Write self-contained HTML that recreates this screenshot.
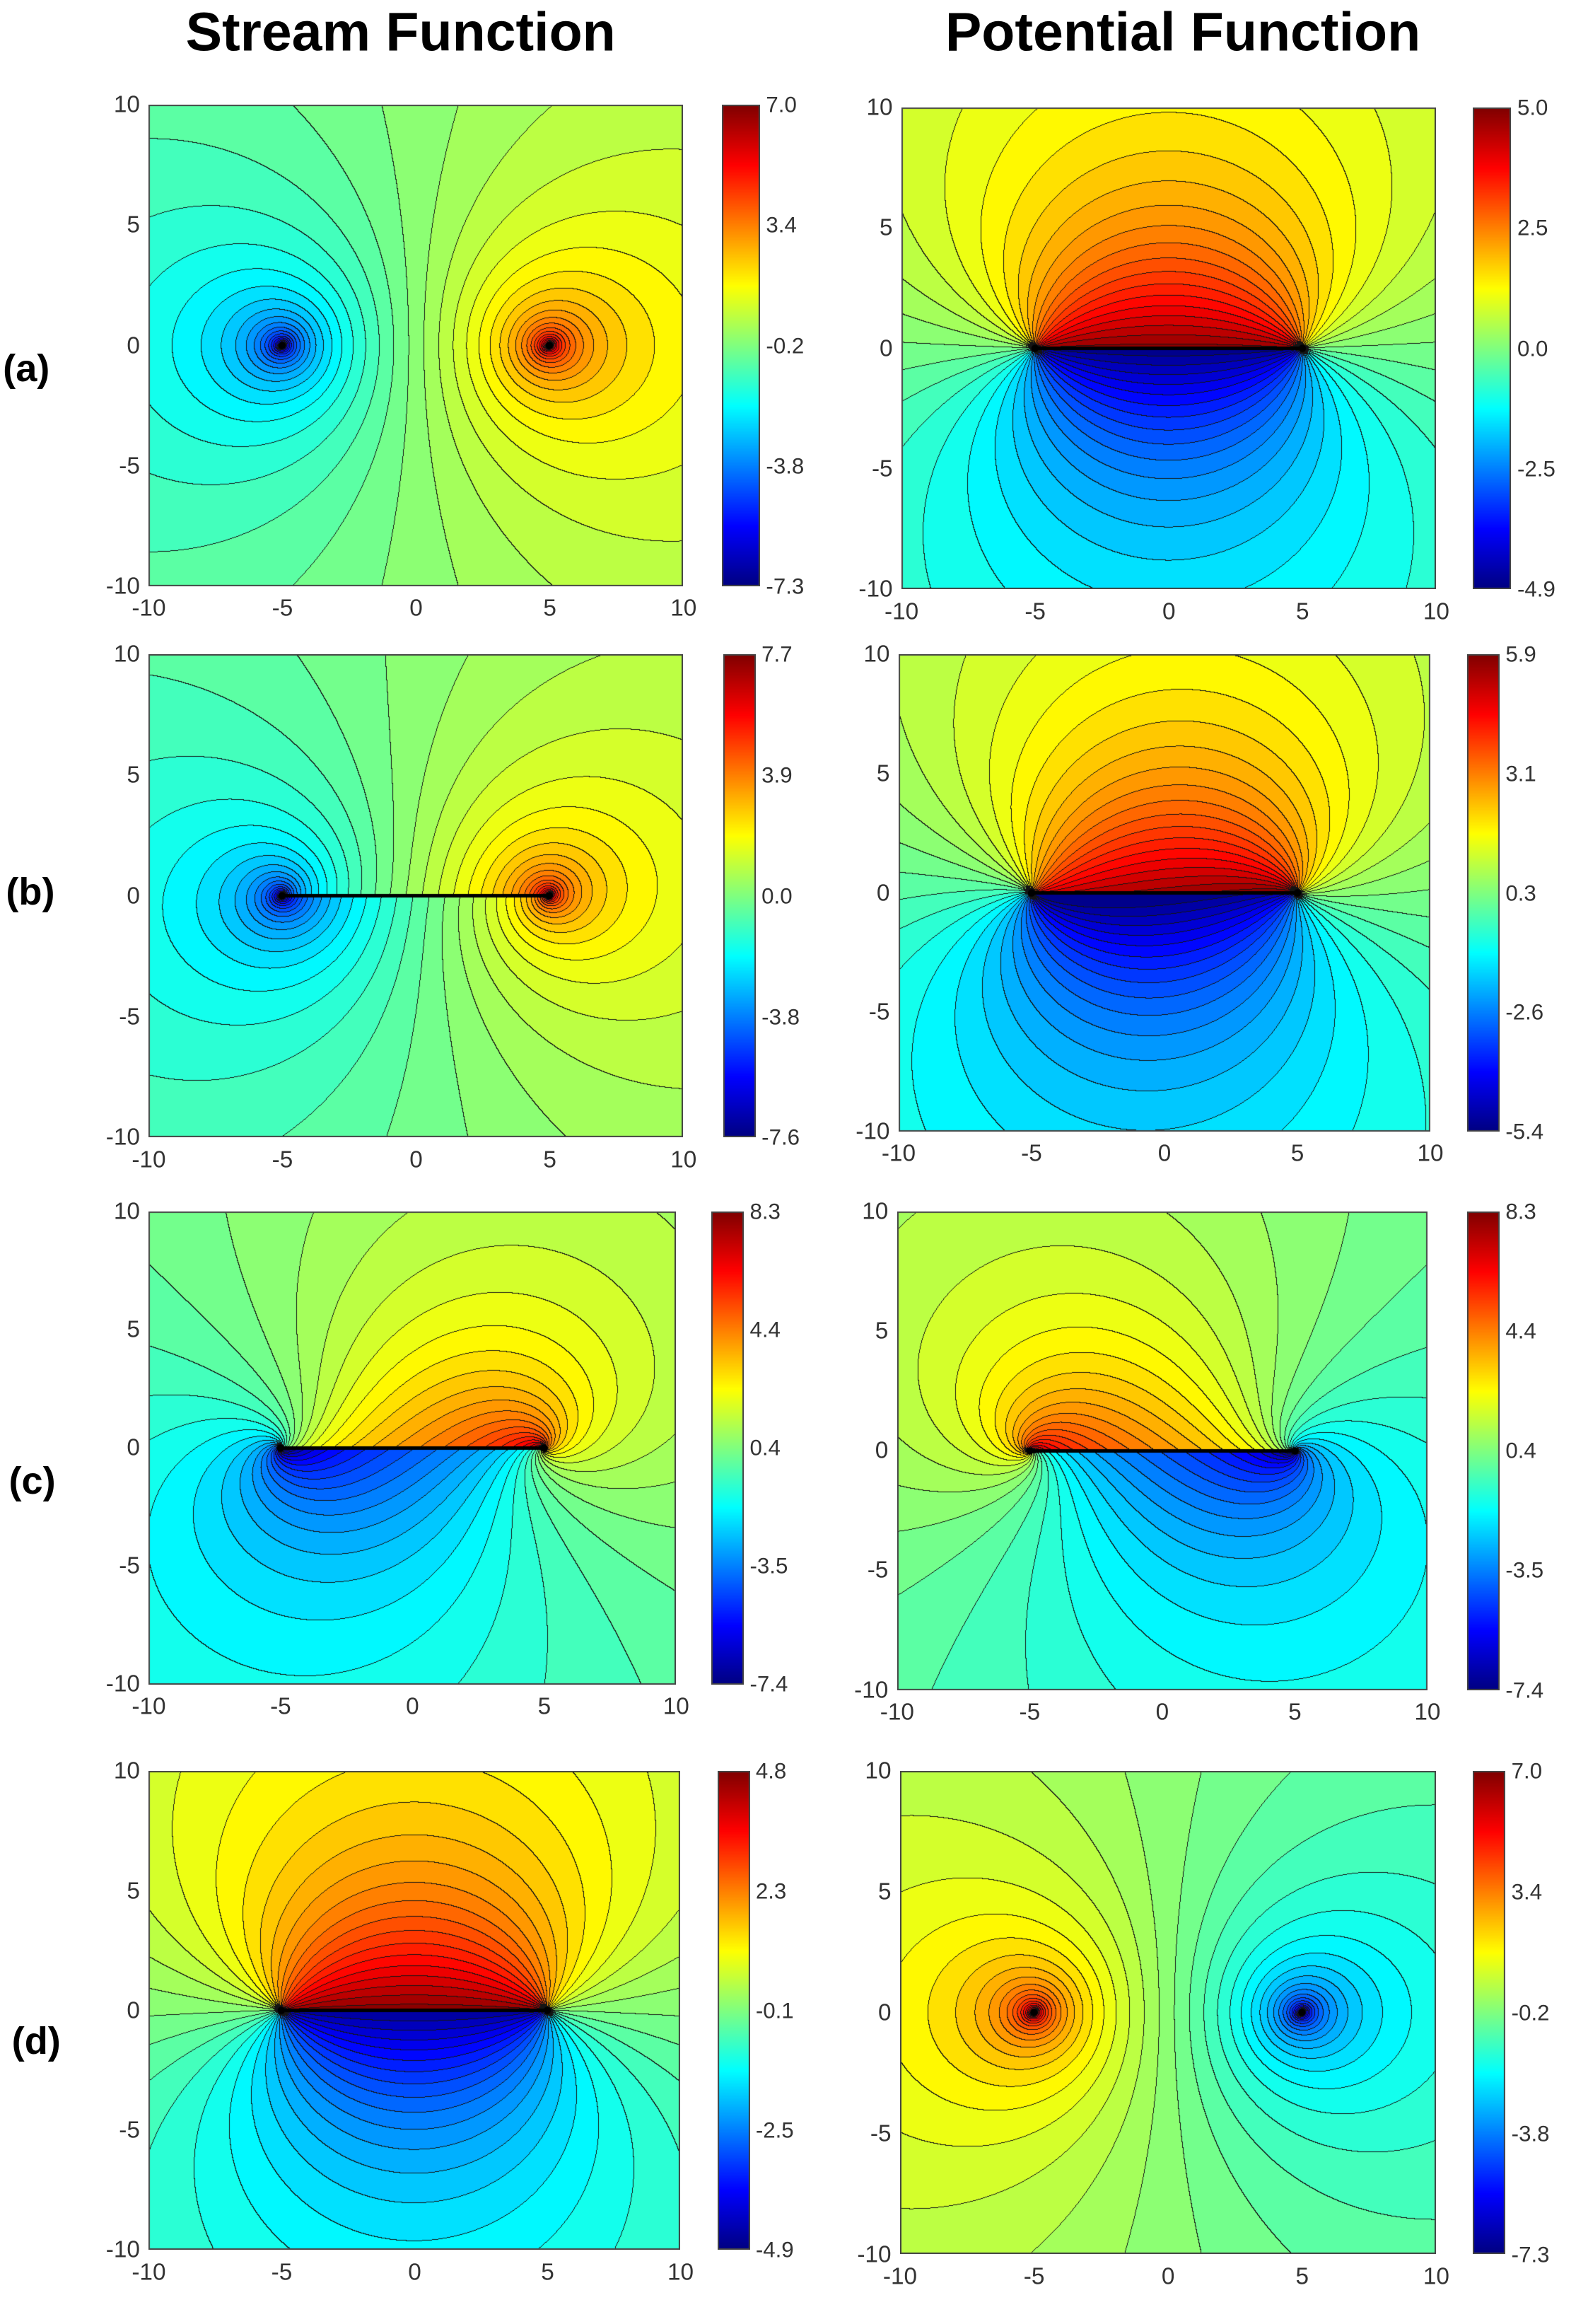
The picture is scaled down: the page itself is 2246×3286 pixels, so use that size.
<!DOCTYPE html>
<html><head><meta charset="utf-8">
<style>
html,body{margin:0;padding:0;background:#fff;}
body{width:2246px;height:3286px;position:relative;overflow:hidden;font-family:"Liberation Sans",sans-serif;}
.t{position:absolute;white-space:nowrap;color:#333;}
canvas{position:absolute;}
</style></head><body>
<script>
const S=2246/1078;
function jet(t){t=Math.max(0,Math.min(1,t));
 const c=v=>Math.round(255*Math.max(0,Math.min(1,v)));
 return [c(1.5-Math.abs(4*t-3)),c(1.5-Math.abs(4*t-2)),c(1.5-Math.abs(4*t-1))];}
function txt(s,x,y,size,opts){const d=document.createElement('div');d.className='t';d.textContent=s;
 d.style.fontSize=(size*S)+'px';d.style.lineHeight='1';
 if(opts&&opts.bold){d.style.fontWeight='bold';d.style.color='#000';}
 let tx='translate(0,-50%)';
 if(opts&&opts.align==='c')tx='translate(-50%,-50%)';
 if(opts&&opts.align==='r')tx='translate(-100%,-50%)';
 d.style.left=(x*S)+'px';d.style.top=(y*S)+'px';d.style.transform=tx;document.body.appendChild(d);}
const A=(x,y)=>Math.log(Math.hypot(x+5,y)+1e-9)-Math.log(Math.hypot(x-5,y)+1e-9);
const B=(x,y)=>(Math.atan2(y,x-5)-Math.atan2(y,x+5));
const fs={
 a1:(x,y)=>1.5*A(x,y),
 a2:(x,y)=>1.55*B(x,y),
 b1:(x,y)=>1.5*A(x,y)+0.2*B(x,y),
 b2:(x,y)=>1.75*B(x,y)+0.2*A(x,y),
 c1:(x,y)=>1.0*A(x,y)+1.3*B(x,y),
 c2:(x,y)=>1.3*B(x,y)-1.0*A(x,y),
 d1:(x,y)=>1.5*B(x,y),
 d2:(x,y)=>-1.5*A(x,y)
};
const P=[
 ['a1',101,71,363,327,490,26,-7.3,7.0,['7.0','3.4','-0.2','-3.8','-7.3'],0],
 ['a2',612,73,363,327,1000,26,-4.9,5.0,['5.0','2.5','0.0','-2.5','-4.9'],1],
 ['b1',101,444,363,328,491,22,-7.6,7.7,['7.7','3.9','0.0','-3.8','-7.6'],1],
 ['b2',610,444,361,324,996,22,-5.4,5.9,['5.9','3.1','0.3','-2.6','-5.4'],1],
 ['c1',101,822,358,321,483,22,-7.4,8.3,['8.3','4.4','0.4','-3.5','-7.4'],1],
 ['c2',609,822,360,325,996,22,-7.4,8.3,['8.3','4.4','0.4','-3.5','-7.4'],1],
 ['d1',101,1202,361,325,487,22,-4.9,4.8,['4.8','2.3','-0.1','-2.5','-4.9'],1],
 ['d2',611,1202,364,328,1000,22,-7.3,7.0,['7.0','3.4','-0.2','-3.8','-7.3'],0]
];
for(const p of P){
 const [k,x,y,w,h,cx,cw,mn,mx,labs,seg]=p;
 const W=Math.round(w*S),H=Math.round(h*S);
 const cv=document.createElement('canvas');cv.width=W;cv.height=H;
 cv.style.left=Math.round(x*S)+'px';cv.style.top=Math.round(y*S)+'px';
 document.body.appendChild(cv);
 const ctx=cv.getContext('2d');const img=ctx.createImageData(W,H);
 const f=fs[k];const step=(mx-mn)/42;const Q=new Int32Array(W*H);
 for(let j=0;j<H;j++)for(let i=0;i<W;i++){
  const X=-10+20*(i+0.5)/W,Y=10-20*(j+0.5)/H;
  let v=f(X,Y);v=Math.max(mn,Math.min(mx,v));
  Q[j*W+i]=Math.floor((v-mn)/step);}
 for(let j=0;j<H;j++)for(let i=0;i<W;i++){
  const q=Q[j*W+i];let c;
  const edge=(i+1<W&&Q[j*W+i+1]!==q)||(j+1<H&&Q[(j+1)*W+i]!==q);
  if(edge)c=[20,20,20];else c=jet((q+0.5)*step/(mx-mn));
  const o=4*(j*W+i);img.data[o]=c[0];img.data[o+1]=c[1];img.data[o+2]=c[2];img.data[o+3]=255;}
 ctx.putImageData(img,0,0);
 if(seg){ctx.strokeStyle='#000';ctx.lineWidth=2.5*S;ctx.beginPath();ctx.moveTo(W*0.25,H/2);ctx.lineTo(W*0.75,H/2);ctx.stroke();}
 ctx.fillStyle='#000';for(const px of [0.25,0.75]){ctx.beginPath();ctx.arc(W*px,H/2,2.5*S,0,7);ctx.fill();}
 ctx.strokeStyle='#444';ctx.lineWidth=2;ctx.strokeRect(1,1,W-2,H-2);
 const cb=document.createElement('canvas');const CW=Math.round(cw*S);cb.width=CW;cb.height=H;
 cb.style.left=Math.round(cx*S)+'px';cb.style.top=Math.round(y*S)+'px';document.body.appendChild(cb);
 const c2=cb.getContext('2d');
 for(let j=0;j<H;j++){const c=jet(1-j/H);c2.fillStyle=`rgb(${c})`;c2.fillRect(0,j,CW,1);}
 c2.strokeStyle='#444';c2.lineWidth=2;c2.strokeRect(1,1,CW-2,H-2);
 labs.forEach((l,n)=>txt(l,cx+cw+4,y+n*h/4,15,{}));
 [-10,-5,0,5,10].forEach(v=>{
  txt(String(v),x+(v+10)/20*w,y+h+15,16,{align:'c'});
  txt(String(v),x-6,y+(10-v)/20*h,16,{align:'r'});
 });
}
txt('Stream Function',272,22,37,{bold:1,align:'c'});
txt('Potential Function',803,22,37,{bold:1,align:'c'});
txt('(a)',2,250,26,{bold:1});
txt('(b)',4,605,26,{bold:1});
txt('(c)',6,1005,26,{bold:1});
txt('(d)',8,1385,26,{bold:1});
</script>
</body></html>
